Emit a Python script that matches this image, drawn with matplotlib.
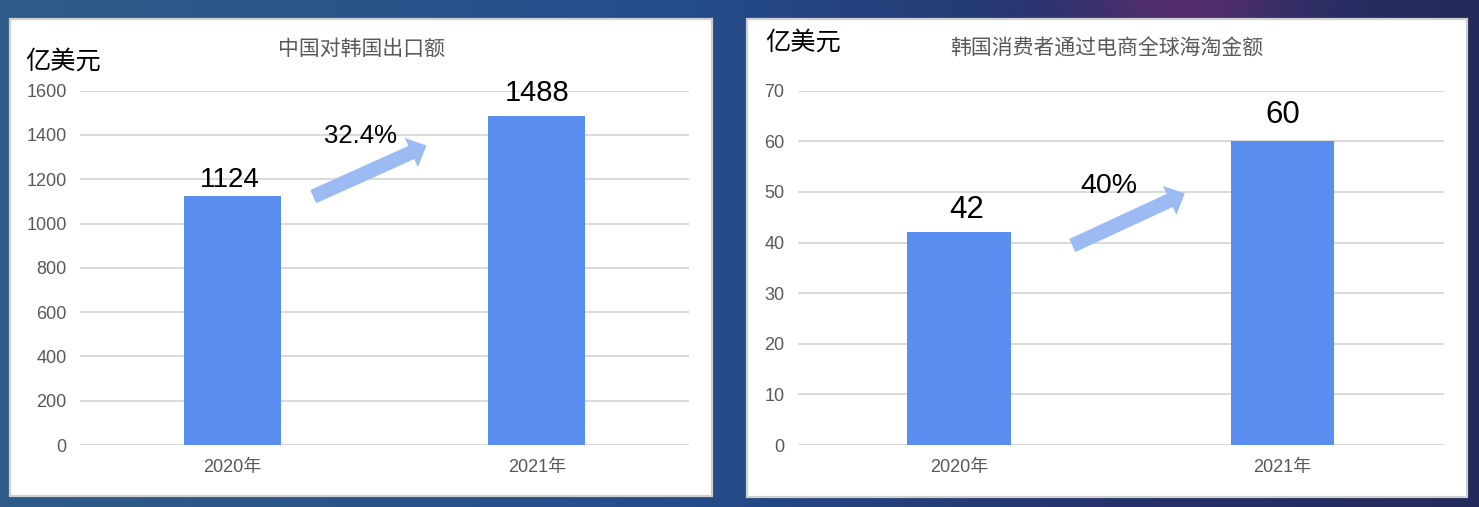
import numpy as np
import matplotlib
matplotlib.use('Agg')
import matplotlib.pyplot as plt
from matplotlib.patches import Rectangle

# ---------------- data ----------------
categories = ['2020年', '2021年']
export_values = [1124, 1488]          # 中国对韩国出口额 (亿美元)
haitao_values = [42, 60]              # 韩国消费者通过电商全球海淘金额 (亿美元)
export_growth = '32.4%'
haitao_growth = '40%'
export_ticks = [0, 200, 400, 600, 800, 1000, 1200, 1400, 1600]
haitao_ticks = [0, 10, 20, 30, 40, 50, 60, 70]
left_title = '中国对韩国出口额'
right_title = '韩国消费者通过电商全球海淘金额'
unit_label = '亿美元'

# ---------------- styling ----------------
W, H = 1479, 507
BAR = '#598DEF'
ARROW = '#9BBBF2'
GRID = '#D9D9D9'
TICK = '#595959'
LAT = ['Liberation Sans', 'Noto Sans CJK SC', 'DejaVu Sans']
CJK = ['Noto Sans CJK SC', 'DejaVu Sans']

fig = plt.figure(figsize=(W / 100, H / 100), dpi=100)

# background gradient (decoration)
bg = fig.add_axes([0, 0, 1, 1], zorder=0)
bg.axis('off')
xs = np.linspace(0, 1, W)
ys = np.linspace(0, 1, H)
X, Y = np.meshgrid(xs, ys)
stops_x = [0.0, 0.45, 0.75, 1.0]
cols = np.array([[46, 92, 135], [36, 78, 140], [38, 50, 108], [36, 42, 92]], float)
img = np.zeros((H, W, 3))
for c in range(3):
    img[..., c] = np.interp(X, stops_x, cols[:, c])
glow = np.exp(-(((X - 0.80) / 0.07) ** 2 + ((Y - 0.0) / 0.12) ** 2))
img += glow[..., None] * (np.array([98, 45, 112]) - img) * 0.8
bg.imshow(img.astype(np.uint8), extent=[0, 1, 0, 1], aspect='auto', origin='upper')
bg.set_xlim(0, 1)
bg.set_ylim(0, 1)


def fx(px):
    return px / W


def fy(py):
    return 1 - py / H


# white panels
for (x0, y0, x1, y1) in [(10, 19, 712, 496), (747, 19, 1467, 497)]:
    fig.patches.append(Rectangle((fx(x0), fy(y1)), fx(x1 - x0), (y1 - y0) / H,
                                 transform=fig.transFigure, facecolor='white',
                                 edgecolor='#CFCFCF', lw=1.6, zorder=1))


def make_axes(rect, values, ticks, ylim, label_sizes, label_gaps, label_dx, growth,
              growth_pos, growth_size, tail, tip):
    ax = fig.add_axes(rect, zorder=2)
    ax.set_facecolor('none')
    x = np.arange(len(categories))
    ax.bar(x, values, width=0.32, color=BAR, zorder=3)
    ax.set_xlim(-0.5, 1.5)
    ax.set_ylim(*ylim)
    ax.set_yticks(ticks)
    ax.set_xticks(x)
    ax.set_xticklabels(categories)
    for s in ax.spines.values():
        s.set_visible(False)
    ax.yaxis.grid(True, color=GRID, lw=1.4, zorder=0)
    ax.set_axisbelow(True)
    ax.tick_params(axis='y', length=0, pad=9.5, labelsize=13, labelcolor=TICK)
    ax.tick_params(axis='x', length=0, pad=10, labelsize=13, labelcolor=TICK)
    for lab in ax.get_yticklabels() + ax.get_xticklabels():
        lab.set_fontfamily(LAT)
    for i, v in enumerate(values):
        ax.annotate(str(v), xy=(i, v), xytext=(label_dx[i] * 0.72, label_gaps[i] * 0.72),
                    textcoords='offset points', ha='center', va='baseline',
                    fontsize=label_sizes[i], family=LAT, color='black', zorder=5)
    ax.annotate('', xy=tip, xytext=tail, xycoords='axes fraction',
                arrowprops=dict(arrowstyle='simple,head_length=0.6,head_width=1.15,tail_width=0.52',
                                mutation_scale=20, color=ARROW, lw=0,
                                shrinkA=0, shrinkB=0), zorder=4)
    ax.text(growth_pos[0], growth_pos[1], growth, transform=ax.transAxes,
            ha='center', va='center', fontsize=growth_size, family=LAT,
            color='black', zorder=5)
    return ax


# left chart
make_axes([fx(80), fy(445), fx(609), 354.3 / H], export_values, export_ticks, (0, 1600),
          [20, 21], [9, 15], [-2, 0], export_growth, (0.461, 0.872), 18.5,
          (0.383, 0.701), (0.569, 0.845))
# right chart
make_axes([fx(797.6), fy(445), fx(646.4), 354.3 / H], haitao_values, haitao_ticks, (0, 70),
          [22.5, 22.5], [14, 18], [7, 0], haitao_growth, (0.482, 0.731), 20.5,
          (0.425, 0.563), (0.599, 0.710))

# titles and unit labels
fig.text(fx(361), fy(49), left_title, ha='center', va='center', fontsize=15,
         family=CJK, color=TICK, zorder=6)
fig.text(fx(1107), fy(49), right_title, ha='center', va='center', fontsize=15,
         family=CJK, color=TICK, zorder=6)
fig.text(fx(25), fy(62), unit_label, ha='left', va='center', fontsize=18.2,
         family=CJK, color='black', zorder=6)
fig.text(fx(765), fy(43), unit_label, ha='left', va='center', fontsize=18.2,
         family=CJK, color='black', zorder=6)

fig.savefig('out.png', dpi=100)
